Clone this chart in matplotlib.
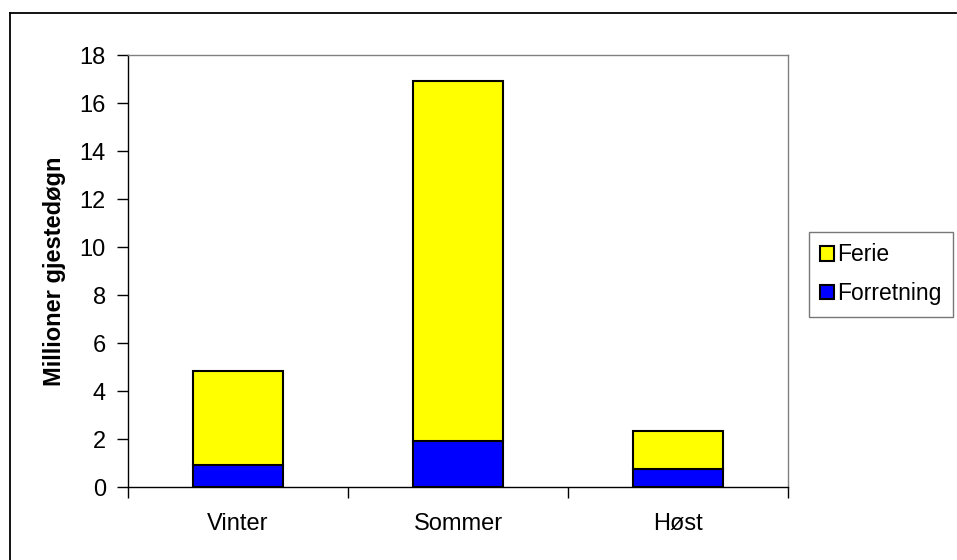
import matplotlib
matplotlib.use("Agg")
import matplotlib.pyplot as plt
from matplotlib.lines import Line2D
import numpy as np

plt.rcParams['font.family'] = ['Liberation Sans', 'DejaVu Sans']

categories = ["Vinter", "Sommer", "Høst"]
forretning = [0.92, 1.92, 0.74]
ferie_total = [4.83, 16.92, 2.33]
ferie = [t - f for t, f in zip(ferie_total, forretning)]
yticks = [0, 2, 4, 6, 8, 10, 12, 14, 16, 18]

fig = plt.figure(figsize=(9.57, 5.60), dpi=100)
ax = fig.add_axes([128/957, 1 - 487/560, (788-128)/957, (487-55)/560])

x = np.arange(len(categories))
w = 0.41
ax.bar(x, forretning, width=w, color='#0000FF', edgecolor='black', linewidth=1.5, label='Forretning', zorder=3)
ax.bar(x, ferie, width=w, bottom=forretning, color='#FFFF00', edgecolor='black', linewidth=1.5, label='Ferie', zorder=3)

ax.set_xlim(-0.5, len(categories) - 0.5)
ax.set_ylim(0, 18)
ax.set_yticks(yticks)
ax.set_yticklabels([str(v) for v in yticks])
ax.set_xticks(x)
ax.set_xticklabels(categories)
ax.set_xticks(np.arange(-0.5, len(categories)), minor=True)
ax.tick_params(axis='x', which='major', length=0, pad=19, labelsize=17)
ax.tick_params(axis='x', which='minor', length=8, width=1, direction='out', color='black')
ax.tick_params(axis='y', length=8, width=1, direction='out', pad=8, labelsize=17, color='black')

for s in ['top', 'right']:
    ax.spines[s].set_color('#808080')
    ax.spines[s].set_linewidth(1)
for s in ['left', 'bottom']:
    ax.spines[s].set_color('black')
    ax.spines[s].set_linewidth(1)

ax.set_ylabel('Millioner gjestedøgn', fontsize=17, fontweight='bold', labelpad=10)

handles, labels = ax.get_legend_handles_labels()
leg = fig.legend(handles[::-1], labels[::-1], loc='upper left',
                 bbox_to_anchor=(809/957, 1 - 232/560), fontsize=16.5,
                 frameon=True, fancybox=False, shadow=False,
                 handlelength=0.6, handleheight=0.6, handletextpad=0.12,
                 labelspacing=0.68, borderpad=0.5, borderaxespad=0)
leg.get_frame().set_edgecolor('#555555')
leg.get_frame().set_linewidth(1)

# outer chart border (left and top edges visible)
fig.add_artist(Line2D([10/957, 10/957], [0, 1 - 13/560], transform=fig.transFigure, color='black', linewidth=1.3))
fig.add_artist(Line2D([10/957, 956/957], [1 - 13/560, 1 - 13/560], transform=fig.transFigure, color='black', linewidth=1.3))

fig.savefig('out.png', dpi=100)
